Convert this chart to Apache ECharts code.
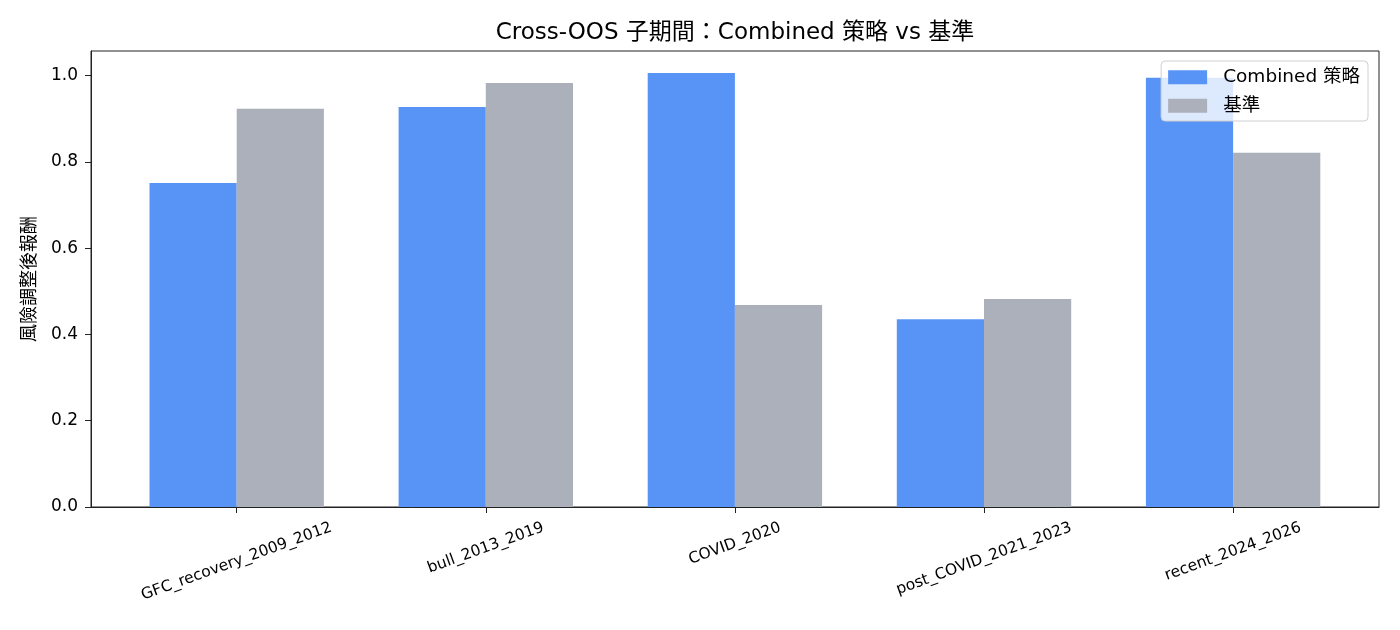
<!DOCTYPE html>
<html>
<head>
<meta charset="utf-8">
<script src="https://cdn.jsdelivr.net/npm/echarts@6/dist/echarts.min.js"></script>
<style>html,body{margin:0;padding:0;background:#fff}#c{width:1400px;height:630px}</style>
</head>
<body>
<div id="c"></div>
<script>
const categories = ['GFC_recovery_2009_2012', 'bull_2013_2019', 'COVID_2020', 'post_COVID_2021_2023', 'recent_2024_2026'];
const combined = [0.751, 0.927, 1.006, 0.435, 0.995];
const baseline = [0.923, 0.983, 0.468, 0.482, 0.821];
const yTicks = [0, 0.2, 0.4, 0.6, 0.8, 1.0];
const seriesNames = ['Combined 策略', '基準'];

const FONT = '"DejaVu Sans", "Noto Sans CJK TC", sans-serif';
const XFS = 15.5;          // x tick label font size
const ROT = 20;            // label rotation (deg)
const X_MARGIN = 12;       // label anchor distance below axis
const AXIS_Y = 507, LABEL_TOP = 518.5;

// matplotlib-style centred rotated labels: each label gets its own rich style whose
// padding moves the rotated text so its bbox is centred under the tick
const measureCtx = document.createElement('canvas').getContext('2d');
measureCtx.font = XFS + 'px ' + FONT;
const sn = Math.sin(ROT * Math.PI / 180), cs = Math.cos(ROT * Math.PI / 180);
const labelRich = {};
categories.forEach((name, i) => {
  const L = measureCtx.measureText(name).width;
  const h = XFS * 1.17;
  const D = Math.max(0, LABEL_TOP - (AXIS_Y + X_MARGIN) + (L * sn + h * cs) / 2);
  labelRich['l' + i] = {
    fontSize: XFS, fontFamily: FONT, color: '#000',
    padding: [2 * D * cs, 2 * D * sn, 0, 0]
  };
});

const chart = echarts.init(document.getElementById('c'), null, {renderer: 'canvas'});
const yMax = 1.057;
chart.setOption({
  animation: false,
  backgroundColor: '#fff',
  textStyle: {fontFamily: FONT, color: '#000'},
  title: {
    text: 'Cross-OOS 子期間：Combined 策略 vs 基準',
    left: 730, top: 17, textAlign: 'center',
    textStyle: {fontFamily: FONT, fontSize: 23, fontWeight: 'normal', color: '#000'}
  },
  legend: {
    data: seriesNames,
    orient: 'vertical',
    right: 32, top: 61,
    itemWidth: 39, itemHeight: 14, itemGap: 10,
    padding: [7, 8, 6, 7],
    backgroundColor: 'rgba(255,255,255,0.8)',
    borderColor: '#d0d0d0', borderWidth: 1, borderRadius: 4,
    icon: 'rect',
    textStyle: {fontFamily: FONT, fontSize: 18.5, color: '#000', padding: [0, 0, 0, 11]}
  },
  grid: [
    {left: 91, right: 21, top: 51, bottom: 123, show: true, borderColor: '#222', borderWidth: 1, backgroundColor: 'transparent'},
    {left: 112.15, right: 42.35, top: 51, bottom: 123}
  ],
  xAxis: [
    {type: 'category', gridIndex: 0, data: categories, axisLine: {show: true, lineStyle: {color: '#222'}},
     axisTick: {show: false}, axisLabel: {show: false}, splitLine: {show: false}},
    {type: 'category', gridIndex: 1, data: categories, axisLine: {show: false},
     axisTick: {show: true, alignWithLabel: true, length: 6, lineStyle: {color: '#222'}},
     axisLabel: {rotate: ROT, align: 'center', verticalAlign: 'middle', fontSize: XFS, color: '#000',
       fontFamily: FONT, margin: X_MARGIN, interval: 0, hideOverlap: false,
       formatter: (v, i) => '{l' + i + '|' + v + '}', rich: labelRich},
     splitLine: {show: false}}
  ],
  yAxis: [
    {type: 'value', gridIndex: 0, min: 0, max: yMax,
     name: '風險調整後報酬', nameLocation: 'middle', nameGap: 52,
     nameTextStyle: {fontFamily: FONT, fontSize: 18, color: '#000'},
     axisLine: {show: true, lineStyle: {color: '#222'}},
     axisTick: {show: true, length: 6, lineStyle: {color: '#222'}, customValues: yTicks},
     axisLabel: {fontSize: 17, color: '#000', fontFamily: FONT, margin: 13, customValues: yTicks,
       formatter: v => v.toFixed(1)},
     splitLine: {show: false}},
    {type: 'value', gridIndex: 1, min: 0, max: yMax, show: false, splitLine: {show: false}}
  ],
  series: [
    {name: seriesNames[0], type: 'bar', xAxisIndex: 1, yAxisIndex: 1, data: combined,
     barWidth: 87.2, barGap: '0%', itemStyle: {color: '#5894f6'}},
    {name: seriesNames[1], type: 'bar', xAxisIndex: 1, yAxisIndex: 1, data: baseline,
     barWidth: 87.2, barGap: '0%', itemStyle: {color: '#acb0bb'}}
  ]
});
</script>
</body>
</html>
